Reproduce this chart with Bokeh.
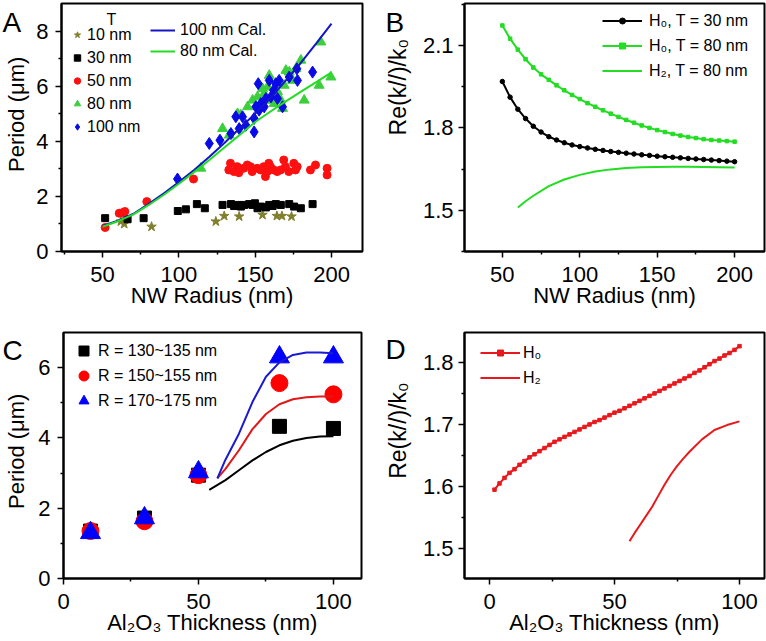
import math
from bokeh.plotting import figure
from bokeh.models import FixedTicker, Legend, LegendItem, Label, Range1d
from bokeh.layouts import column, row
from bokeh.core.properties import value
from bokeh.embed import file_html
from bokeh.resources import INLINE

FONT = "Liberation Sans"

# ---------------- Panel A data ----------------
t10_x = [62.0, 64.2, 82.1, 124.2, 129.7, 139.5, 154.8, 164.2, 167.5, 173.8]
t10_y = [1.09, 1.00, 0.90, 1.09, 1.29, 1.27, 1.33, 1.29, 1.29, 1.27]
t30_x = [51.7, 66.4, 76.9, 99.3, 104.6, 111.8, 117.0, 128.6, 134.1, 136.2, 138.4, 140.6, 142.8,
         146.1, 148.3, 149.8, 151.5, 153.7, 157.0, 159.2, 161.4, 163.5, 166.8, 172.3, 175.5, 179.9, 187.6]
t30_y = [1.21, 1.17, 1.21, 1.47, 1.53, 1.72, 1.57, 1.69, 1.72, 1.65, 1.69, 1.63, 1.69,
         1.72, 1.69, 1.75, 1.57, 1.63, 1.60, 1.69, 1.65, 1.72, 1.69, 1.72, 1.63, 1.57, 1.72]
t50_x = [51.7, 60.9, 63.1, 64.6, 79.0, 109.6, 133.8, 132.7, 136.0, 138.2, 139.3, 142.5, 144.8, 146.9,
         148.0, 151.3, 153.5, 155.6, 156.7, 157.9, 158.9, 160.0, 162.2, 164.4, 166.6, 168.7, 169.8,
         172.0, 175.3, 176.4, 177.5, 186.2, 189.5, 197.1, 197.1]
t50_y = [0.87, 1.39, 1.41, 1.45, 1.81, 2.63, 3.20, 2.96, 2.90, 3.08, 2.86, 3.02, 3.14, 3.08,
         2.90, 3.02, 2.96, 3.08, 2.72, 2.90, 3.20, 3.08, 2.96, 2.90, 2.96, 3.32, 3.08,
         2.90, 3.20, 2.96, 3.08, 2.96, 3.14, 3.02, 2.78]
t80_x = [114.4, 128.6, 133.0, 138.4, 140.5, 145.0, 148.3, 151.5, 152.6, 154.8, 155.9, 157.0, 159.2, 158.1,
         160.3, 162.4, 164.6, 166.8, 167.9, 169.0, 170.1, 172.3, 174.5, 176.6, 179.9, 182.1, 191.9, 193.0, 199.6]
t80_y = [3.02, 4.46, 4.22, 5.00, 4.95, 5.25, 5.49, 5.61, 5.25, 5.91, 5.73, 5.49, 6.39, 5.97,
         5.49, 5.37, 5.80, 5.49, 5.19, 6.03, 6.57, 6.51, 6.21, 6.63, 6.94, 5.49, 6.03, 7.60, 6.33]
t100_x = [99.1, 119.9, 126.9, 134.1, 137.3, 139.5, 141.7, 143.9, 149.3, 149.3, 150.4, 152.0, 152.6, 153.7,
          155.9, 157.0, 159.2, 160.3, 162.0, 163.5, 164.6, 165.7, 167.9, 172.3, 177.3, 177.7, 187.6]
t100_y = [2.63, 3.92, 4.04, 4.28, 4.89, 4.46, 4.89, 4.58, 4.34, 4.83, 5.25, 6.09, 5.13, 5.37,
          5.25, 5.55, 6.21, 5.61, 5.85, 6.09, 5.55, 6.21, 5.25, 6.33, 6.63, 6.21, 6.51]
cal_x = [50, 60, 70, 80, 90, 100, 110, 120, 130, 140, 150, 160, 170, 180, 190, 200]
cal100_y = [0.93, 1.12, 1.36, 1.72, 2.10, 2.52, 2.96, 3.44, 3.95, 4.48, 5.00, 5.58, 6.20, 6.85, 7.55, 8.27]
cal80_y = [0.90, 1.10, 1.34, 1.68, 2.05, 2.46, 2.88, 3.32, 3.78, 4.24, 4.70, 5.08, 5.45, 5.80, 6.15, 6.50]

# ---------------- Panel B data ----------------
b_x = [50, 55, 60, 65, 70, 75, 80, 85, 90, 95, 100, 105, 110, 115, 120, 125, 130, 135, 140, 145,
       150, 155, 160, 165, 170, 175, 180, 185, 190, 195, 200]
b_h0_30 = [1.969, 1.912, 1.868, 1.834, 1.806, 1.785, 1.768, 1.756, 1.746, 1.738, 1.732, 1.727, 1.722,
           1.718, 1.714, 1.711, 1.708, 1.705, 1.702, 1.700, 1.697, 1.695, 1.693, 1.691, 1.689, 1.687,
           1.685, 1.683, 1.681, 1.679, 1.677]
b_h0_80 = [2.173, 2.125, 2.085, 2.050, 2.020, 1.995, 1.975, 1.955, 1.937, 1.920, 1.905, 1.890, 1.877,
           1.864, 1.852, 1.840, 1.829, 1.819, 1.809, 1.800, 1.792, 1.785, 1.778, 1.772, 1.767, 1.763,
           1.759, 1.756, 1.754, 1.752, 1.750]
b_h2_x = [60, 65, 70, 80, 90, 100, 110, 120, 130, 140, 150, 160, 170, 180, 190, 200]
b_h2_80 = [1.510, 1.533, 1.553, 1.588, 1.612, 1.629, 1.641, 1.649, 1.654, 1.657, 1.658, 1.659, 1.659,
           1.658, 1.657, 1.656]

# ---------------- Panel C data ----------------
c_thick = [10, 30, 50, 80, 100]
c_r130 = [1.35, 1.72, 2.94, 4.33, 4.27]
c_r150 = [1.35, 1.63, 2.94, 5.56, 5.24]
c_r170 = [1.30, 1.72, 3.03, 6.30, 6.30]
c_fit130_x = [54, 60, 65, 70, 75, 80, 85, 90, 95, 100]
c_fit130_y = [2.52, 2.80, 3.08, 3.36, 3.60, 3.79, 3.92, 4.00, 4.04, 4.05]
c_fit_x = [57, 60, 65, 70, 75, 80, 85, 90, 95, 100]
c_fit150_y = [2.85, 3.12, 3.65, 4.25, 4.68, 4.96, 5.10, 5.16, 5.18, 5.18]
c_fit170_y = [2.85, 3.38, 4.12, 5.02, 5.74, 6.15, 6.36, 6.43, 6.43, 6.41]

# ---------------- Panel D data ----------------
d_x = [2, 4, 6, 8, 10, 12, 14, 16, 18, 20, 22, 24, 26, 28, 30, 32, 34, 36, 38, 40, 42, 44, 46, 48, 50,
       52, 54, 56, 58, 60, 62, 64, 66, 68, 70, 72, 74, 76, 78, 80, 82, 84, 86, 88, 90, 92, 94, 96, 98, 100]
d_h0 = [1.595, 1.605, 1.614, 1.622, 1.628, 1.635, 1.641, 1.647, 1.652, 1.657, 1.662, 1.667, 1.672,
        1.676, 1.680, 1.684, 1.688, 1.692, 1.696, 1.700, 1.704, 1.707, 1.711, 1.715, 1.719, 1.722,
        1.726, 1.730, 1.734, 1.738, 1.742, 1.746, 1.750, 1.754, 1.758, 1.762, 1.766, 1.770, 1.774,
        1.778, 1.783, 1.787, 1.792, 1.797, 1.802, 1.806, 1.811, 1.815, 1.820, 1.826]
d_h2_x = [56, 58, 60, 62.5, 65, 67.5, 70, 72.5, 75, 77.5, 80, 85, 90, 95, 100]
d_h2 = [1.512, 1.525, 1.537, 1.552, 1.567, 1.585, 1.603, 1.619, 1.633, 1.645, 1.656, 1.676, 1.691,
        1.699, 1.705]

GREEN_PT = "#3ccf3c"
GREEN_LN = "#22dd22"
BLUE_PT = "#0a0ae6"
BLUE_LN = "#1414c8"
RED = "#ff1010"
OLIVE = "#7f7f2c"


def make_fig(xr, yr, width, height, left, right, top, bottom):
    p = figure(width=width, height=height, x_range=Range1d(*xr), y_range=Range1d(*yr),
               output_backend="svg", toolbar_location=None,
               min_border_left=left, min_border_right=right,
               min_border_top=top, min_border_bottom=bottom)
    p.background_fill_color = "white"
    p.border_fill_color = "white"
    p.outline_line_color = "black"
    p.outline_line_width = 2
    p.outline_line_alpha = 1
    p.xgrid.visible = False
    p.ygrid.visible = False
    return p


def style_axes(p, xt, xm, yt, ym, xlabel, ytick_standoff):
    for ax, t, m in ((p.xaxis[0], xt, xm), (p.yaxis[0], yt, ym)):
        ax.ticker = FixedTicker(ticks=t, minor_ticks=m)
        ax.axis_line_width = 2
        ax.axis_line_color = "black"
        ax.major_tick_out = 6
        ax.major_tick_in = 0
        ax.minor_tick_out = 3
        ax.minor_tick_in = 0
        ax.major_tick_line_width = 1.5
        ax.minor_tick_line_width = 1.5
        ax.major_tick_line_color = "black"
        ax.minor_tick_line_color = "black"
        ax.major_label_text_font = FONT
        ax.major_label_text_font_size = "22px"
        ax.major_label_text_color = "black"
        ax.axis_label_text_font = FONT
        ax.axis_label_text_font_size = "22px"
        ax.axis_label_text_font_style = "normal"
        ax.axis_label_text_color = "black"
    p.xaxis[0].axis_label = xlabel
    p.xaxis[0].major_label_standoff = 9
    p.xaxis[0].axis_label_standoff = -2
    p.yaxis[0].major_label_standoff = ytick_standoff


def side_fig(width, height, letter, letter_y, ytitle, title_x, title_y, title_size):
    """Left strip holding the panel letter and the rotated y-axis title."""
    s = figure(width=width, height=height, x_range=Range1d(0, width), y_range=Range1d(0, height),
               output_backend="svg", toolbar_location=None, x_axis_type=None, y_axis_type=None,
               min_border=0, min_border_left=0, min_border_right=0, min_border_top=0,
               min_border_bottom=0)
    s.outline_line_color = None
    s.background_fill_color = "white"
    s.border_fill_color = "white"
    s.text(x=[2], y=[letter_y], text=[letter], text_font=value(FONT), text_font_size="28px",
           text_baseline="alphabetic", text_align="left", text_color="black")
    s.text(x=[title_x], y=[title_y], text=[ytitle], angle=math.pi / 2, text_font=value(FONT),
           text_font_size=title_size, text_baseline="middle", text_align="center",
           text_color="black")
    return s


def legend(p, items, loc, gw, gh, lh, spacing, standoff):
    leg = Legend(items=items, location=loc, glyph_width=gw, glyph_height=gh,
                 label_height=lh, label_standoff=standoff, spacing=spacing,
                 padding=0, margin=0, border_line_alpha=0, background_fill_alpha=0,
                 label_text_font=FONT, label_text_font_size="16px", label_text_color="black")
    p.add_layout(leg)


# ---------------- Panel A ----------------
sA = side_fig(30, 320, "A", 295, "Period (μm)", 16, 177, "22px")
pA = make_fig((23.1, 220.3), (0, 9), 353, 320, 31, 21, 3, 68)
style_axes(pA, [50, 100, 150, 200], [25, 75, 125, 175], [0, 2, 4, 6, 8], [1, 3, 5, 7],
           "NW Radius (nm)", 7)
rA1 = pA.scatter(t10_x, t10_y, marker="star", size=10, color=OLIVE)
rA2 = pA.scatter(t30_x, t30_y, marker="square", size=7, color="black")
rA3 = pA.scatter(t50_x, t50_y, marker="circle", size=8, color=RED)
rA4 = pA.scatter(t80_x, t80_y, marker="triangle", size=10, color=GREEN_PT)
rA5 = pA.scatter(t100_x, t100_y, marker="diamond", size=12, color=BLUE_PT)
lA1 = pA.line(cal_x, cal100_y, line_color=BLUE_LN, line_width=2)
lA2 = pA.line(cal_x, cal80_y, line_color=GREEN_LN, line_width=2)
legend(pA, [LegendItem(label="10 nm", renderers=[rA1]),
            LegendItem(label="30 nm", renderers=[rA2]),
            LegendItem(label="50 nm", renderers=[rA3]),
            LegendItem(label="80 nm", renderers=[rA4]),
            LegendItem(label="100 nm", renderers=[rA5])],
       (8, 115), 16, 19, 19, 4, 2)
legend(pA, [LegendItem(label="100 nm Cal.", renderers=[lA1]),
            LegendItem(label="80 nm Cal.", renderers=[lA2])],
       (89, 191), 25, 18, 18, 3, 5)
pA.add_layout(Label(x=50, y=232, x_units="screen", y_units="screen", text="T",
                    text_font=FONT, text_font_size="16px", text_align="center",
                    text_baseline="middle", text_color="black"))

# ---------------- Panel B ----------------
sB = side_fig(34, 320, "B", 295, "Re(k//)/k₀", 14, 212, "23px")
pB = make_fig((25.55, 219.3), (1.35, 2.253), 349, 320, 47, 2, 3, 69)
style_axes(pB, [50, 100, 150, 200], [25, 75, 125, 175], [1.5, 1.8, 2.1], [1.35, 1.65, 1.95, 2.25],
           "NW Radius (nm)", 5)
lB1 = pB.line(b_x, b_h0_30, line_color="black", line_width=2)
mB1 = pB.scatter(b_x, b_h0_30, marker="circle", size=4.5, color="black")
lB2 = pB.line(b_x, b_h0_80, line_color=GREEN_LN, line_width=2)
mB2 = pB.scatter(b_x, b_h0_80, marker="square", size=3.5, color=GREEN_LN)
lB3 = pB.line(b_h2_x, b_h2_80, line_color=GREEN_LN, line_width=2)
legend(pB, [LegendItem(label="H₀, T = 30 nm", renderers=[lB1, mB1]),
            LegendItem(label="H₀, T = 80 nm", renderers=[lB2, mB2]),
            LegendItem(label="H₂, T = 80 nm", renderers=[lB3])],
       (138, 171), 40, 15, 19, 6, 7)

# ---------------- Panel C ----------------
sC = side_fig(30, 321, "C", 298, "Period (μm)", 16, 166, "22px")
pC = make_fig((0, 110.4), (0, 7), 353, 321, 33, 22, 11, 62)
style_axes(pC, [0, 50, 100], [25, 75], [0, 2, 4, 6], [1, 3, 5],
           "Al₂O₃ Thickness (nm)", 7)
rC1 = pC.scatter(c_thick, c_r130, marker="square", size=14, color="black")
rC2 = pC.scatter(c_thick, c_r150, marker="circle", size=17, color="#ff0000")
rC3 = pC.scatter(c_thick, c_r170, marker="triangle", size=20, color="#0000ff")
pC.line(c_fit130_x, c_fit130_y, line_color="black", line_width=2)
pC.line(c_fit_x, c_fit150_y, line_color="#e01818", line_width=2)
pC.line(c_fit_x, c_fit170_y, line_color="#1a1ad2", line_width=2)
legend(pC, [LegendItem(label="R = 130~135 nm", renderers=[rC1]),
            LegendItem(label="R = 150~155 nm", renderers=[rC2]),
            LegendItem(label="R = 170~175 nm", renderers=[rC3])],
       (8, 165), 25, 25, 19, 0, 2)

# ---------------- Panel D ----------------
sD = side_fig(34, 321, "D", 299, "Re(k//)/k₀", 14, 193, "23px")
pD = make_fig((-10, 110), (1.452, 1.848), 349, 321, 47, 2, 12, 63)
style_axes(pD, [0, 50, 100], [25, 75], [1.5, 1.6, 1.7, 1.8], [1.45, 1.55, 1.65, 1.75, 1.85],
           "Al₂O₃ Thickness (nm)", 5)
lD1 = pD.line(d_x, d_h0, line_color="#e8191c", line_width=2)
mD1 = pD.scatter(d_x, d_h0, marker="square", size=3.5, color="#e8191c")
lD2 = pD.line(d_h2_x, d_h2, line_color="#e8191c", line_width=2)
legend(pD, [LegendItem(label="H₀", renderers=[lD1, mD1]),
            LegendItem(label="H₂", renderers=[lD2])],
       (16, 191), 40, 15, 19, 6, 3)

layout = column(row(sA, pA, sB, pB), row(sC, pC, sD, pD))
open("out.html", "w").write(file_html(layout, INLINE))
